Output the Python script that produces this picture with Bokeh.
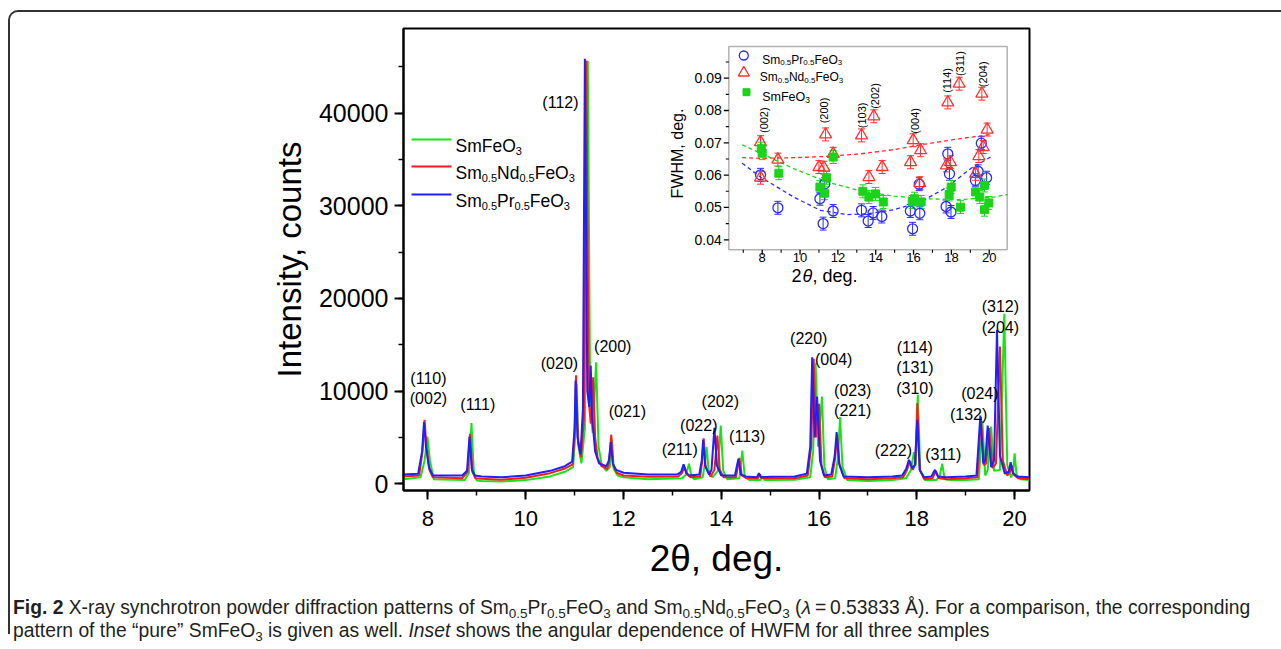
from math import pi
from bokeh.plotting import figure
from bokeh.models import (Range1d, Label, BoxAnnotation, ColumnDataSource, Whisker,
                          TeeHead, SingleIntervalTicker, Div)
from bokeh.layouts import column
from bokeh.core.properties import value
from bokeh.embed import file_html
from bokeh.resources import INLINE

# ---------------- main diffraction patterns (2theta, counts) ----------------
sm_tt = [7.50, 7.85, 7.93, 7.99, 8.04, 8.12, 8.75, 8.84, 8.89, 8.94, 9.00, 9.10, 9.50, 10.00,
         10.50, 10.80, 10.97, 11.01, 11.04, 11.08, 11.14, 11.21, 11.27, 11.32, 11.37, 11.44,
         11.49, 11.55, 11.65, 11.72, 11.76, 11.80, 11.88, 12.00, 12.50, 13.20, 13.28, 13.34,
         13.39, 13.45, 13.62, 13.66, 13.70, 13.74, 13.82, 13.93, 13.99, 14.04, 14.12, 14.37,
         14.43, 14.48, 14.58, 14.80, 14.85, 14.89, 15.00, 15.50, 15.82, 15.88, 15.93, 15.98,
         16.06, 16.11, 16.18, 16.33, 16.39, 16.43, 16.48, 16.58, 17.00, 17.50, 17.78, 17.88,
         17.94, 17.98, 18.02, 18.07, 18.17, 18.40, 18.47, 18.52, 18.57, 18.70, 19.00, 19.27,
         19.34, 19.40, 19.45, 19.52, 19.58, 19.70, 19.79, 19.85, 19.93, 19.97, 20.00, 20.04,
         20.12, 20.30]
sm_int = [500, 700, 2500, 5100, 2500, 500, 400, 1200, 6550, 1200, 350, 300, 250, 400,
          800, 1300, 1800, 5000, 10800, 4000, 2200, 6000, 45600, 8000, 5500, 13100,
          4000, 2200, 1400, 1800, 4800, 1600, 900, 700, 500, 600, 1000, 2160,
          800, 500, 700, 2000, 4000, 1500, 700, 1400, 6290, 1400, 500, 600,
          3590, 800, 400, 400, 800, 400, 400, 450, 700, 3500, 13000, 4000,
          9420, 1800, 500, 600, 3000, 7190, 1800, 400, 300, 400, 600, 1500,
          3410, 2000, 9630, 1400, 400, 400, 900, 2160, 500, 400, 400, 500,
          6800, 900, 1500, 6180, 1400, 1500, 18340, 2000, 700, 1200, 3300, 1000,
          500, 400]

nd_tt = [7.50, 7.82, 7.89, 7.93, 7.97, 8.03, 8.10, 8.70, 8.81, 8.86, 8.91, 8.97, 9.10, 9.50,
         10.00, 10.50, 10.80, 10.96, 11.00, 11.03, 11.07, 11.13, 11.19, 11.24, 11.29, 11.33,
         11.38, 11.42, 11.47, 11.55, 11.67, 11.71, 11.75, 11.79, 11.86, 12.00, 12.50, 13.12,
         13.20, 13.25, 13.30, 13.38, 13.57, 13.61, 13.64, 13.68, 13.78, 13.86, 13.92, 13.97,
         14.05, 14.30, 14.37, 14.42, 14.52, 14.75, 14.79, 14.83, 15.00, 15.50, 15.77, 15.84,
         15.89, 15.94, 16.00, 16.05, 16.12, 16.27, 16.33, 16.37, 16.42, 16.52, 17.00, 17.50,
         17.72, 17.80, 17.86, 17.92, 17.97, 18.01, 18.06, 18.15, 18.32, 18.39, 18.45, 18.62,
         19.00, 19.24, 19.31, 19.37, 19.42, 19.48, 19.55, 19.62, 19.70, 19.76, 19.85, 19.90,
         19.94, 19.98, 20.07, 20.30]
nd_int = [800, 900, 3500, 6900, 4000, 1500, 700, 600, 1300, 5400, 1300, 600, 550, 450,
          650, 1150, 1650, 2100, 5500, 11700, 4500, 2870, 7000, 45670, 9000, 6500,
          11500, 5000, 2800, 1900, 1600, 2500, 5300, 2000, 1200, 900, 750, 800,
          1200, 1800, 1000, 700, 800, 2500, 4900, 1800, 800, 1500, 5210, 1500,
          700, 700, 2800, 900, 600, 600, 1000, 600, 600, 600, 900, 4000,
          13490, 5000, 8630, 2000, 700, 800, 2800, 5330, 2000, 600, 500, 600,
          700, 1500, 2450, 1500, 2200, 8700, 1500, 500, 600, 1400, 600, 500,
          600, 700, 7190, 2000, 2200, 6000, 1700, 2200, 14810, 2500, 900, 1200,
          2000, 1000, 600, 500]

pr_tt = [7.50, 7.80, 7.88, 7.92, 7.96, 8.02, 8.10, 8.70, 8.80, 8.85, 8.90, 8.96, 9.10, 9.50,
         10.00, 10.50, 10.80, 10.95, 11.00, 11.02, 11.06, 11.12, 11.17, 11.21, 11.26, 11.30,
         11.33, 11.36, 11.42, 11.50, 11.65, 11.70, 11.74, 11.78, 11.85, 12.00, 12.50, 13.10,
         13.18, 13.23, 13.28, 13.35, 13.55, 13.60, 13.63, 13.67, 13.75, 13.80, 13.86, 13.91,
         14.00, 14.28, 14.35, 14.40, 14.50, 14.73, 14.77, 14.81, 15.00, 15.50, 15.75, 15.82,
         15.86, 15.91, 15.96, 16.02, 16.10, 16.25, 16.32, 16.36, 16.41, 16.50, 17.00, 17.50,
         17.70, 17.78, 17.84, 17.90, 17.96, 18.01, 18.06, 18.15, 18.30, 18.37, 18.43, 18.60,
         19.00, 19.22, 19.30, 19.36, 19.40, 19.45, 19.52, 19.58, 19.64, 19.70, 19.80, 19.88,
         19.92, 19.96, 20.05, 20.30]
pr_int = [1000, 1100, 3500, 6650, 4000, 1800, 900, 900, 1400, 5100, 1500, 900, 800, 700,
          900, 1400, 1900, 2400, 6000, 11150, 5000, 3200, 8000, 45860, 10000, 8300,
          12770, 7000, 3500, 2200, 1900, 2500, 4500, 2200, 1500, 1200, 1000, 1000,
          1300, 2100, 1200, 900, 1000, 2500, 4750, 2000, 1000, 1500, 6050, 2000,
          900, 900, 2700, 1000, 800, 700, 1150, 700, 750, 800, 1100, 4000,
          13660, 5000, 9420, 2500, 900, 1000, 3000, 5570, 2200, 800, 700, 800,
          900, 1600, 2590, 1700, 2000, 6900, 1500, 700, 800, 1510, 800, 700,
          800, 900, 7370, 2200, 2500, 6290, 1800, 2500, 16620, 3000, 1100, 1300,
          2330, 1200, 800, 700]

peak_text = ["(110)", "(002)", "(111)", "(020)", "(112)", "(200)", "(021)", "(211)", "(022)",
             "(202)", "(113)", "(220)", "(004)", "(023)", "(221)", "(222)", "(114)", "(131)",
             "(310)", "(311)", "(024)", "(132)", "(312)", "(204)"]
peak_x = [8.01, 8.01, 9.02, 10.69, 10.71, 11.78, 12.08, 13.15, 13.54,
          13.98, 14.53, 15.79, 16.30, 16.69, 16.69, 17.52, 17.96, 17.96,
          17.96, 18.54, 19.29, 19.06, 19.71, 19.71]
peak_y = [11410, 9220, 8580, 13030, 41130, 14830, 7750, 3720, 6340,
          8900, 5120, 15650, 13380, 10070, 7910, 3590, 14710, 12550,
          10280, 3190, 9710, 7480, 19100, 16900]

# ---------------- inset: FWHM vs 2theta ----------------
pr_fx = [7.91, 8.83, 11.05, 11.22, 11.31, 11.75, 13.25, 13.60, 13.86, 14.32, 15.83, 15.95,
         16.30, 16.33, 17.72, 17.81, 17.90, 17.98, 19.27, 19.41, 19.58, 19.86]
pr_fw = [0.0601, 0.0499, 0.0527, 0.0450, 0.0573, 0.0489, 0.0491, 0.0458, 0.0483, 0.0472,
         0.0489, 0.0434, 0.0572, 0.0482, 0.0503, 0.0666, 0.0604, 0.0486, 0.0584, 0.0612,
         0.0699, 0.0592]
nd_fx = [7.91, 7.91, 8.83, 11.00, 11.26, 11.35, 11.75, 13.25, 13.64, 13.90, 14.34, 15.84,
         15.98, 16.37, 16.33, 17.81, 17.74, 17.95, 18.41, 19.28, 19.45, 19.61, 19.68, 19.89]
nd_fw = [0.0702, 0.0592, 0.0648, 0.0625, 0.0623, 0.0726, 0.0666, 0.0723, 0.0594, 0.0782,
         0.0625, 0.0640, 0.0708, 0.0677, 0.0575, 0.0825, 0.0630, 0.0640, 0.0883, 0.0604,
         0.0659, 0.0852, 0.0687, 0.0741]
sm_fx = [7.95, 8.00, 8.88, 11.05, 11.29, 11.40, 11.75, 13.32, 13.64, 13.99, 14.40, 15.93,
         16.05, 16.40, 17.88, 17.99, 18.48, 19.28, 19.50, 19.75, 19.75, 19.98]
sm_fw = [0.0682, 0.0668, 0.0606, 0.0563, 0.0544, 0.0592, 0.0656, 0.0550, 0.0532, 0.0542,
         0.0517, 0.0517, 0.0527, 0.0517, 0.0540, 0.0563, 0.0501, 0.0548, 0.0532, 0.0568,
         0.0493, 0.0514]
fwhm_err = 0.002

fit_pr_x = [6.94, 7.91, 9.67, 11.08, 12.49, 13.55, 14.96, 16.37, 17.78, 19.01, 20.07]
fit_pr_y = [0.0637, 0.0594, 0.0532, 0.0491, 0.0478, 0.0480, 0.0493, 0.0517, 0.0563, 0.0620, 0.0656]
fit_nd_x = [6.94, 7.91, 9.67, 11.44, 13.20, 14.96, 16.72, 18.48, 20.07]
fit_nd_y = [0.0654, 0.0652, 0.0654, 0.0658, 0.0666, 0.0679, 0.0697, 0.0713, 0.0726]
fit_sm_x = [6.94, 7.91, 9.67, 11.44, 13.20, 14.96, 16.72, 18.48, 20.24, 20.95]
fit_sm_y = [0.0694, 0.0668, 0.0620, 0.0579, 0.0551, 0.0535, 0.0527, 0.0524, 0.0532, 0.0540]

ins_text = ["(002)", "(200)", "(103)", "(202)", "(004)", "(114)", "(311)", "(204)"]
ins_tx = [8.09, 11.26, 13.28, 13.95, 16.05, 17.78, 18.45, 19.66]
ins_ty = [0.0770, 0.0800, 0.0785, 0.0845, 0.0768, 0.0893, 0.0945, 0.0912]

ins_xmaj = [8, 10, 12, 14, 16, 18, 20]
ins_xmin = [7, 9, 11, 13, 15, 17, 19]
ins_ymaj = [0.04, 0.05, 0.06, 0.07, 0.08, 0.09]
ins_ymin = [0.045, 0.055, 0.065, 0.075, 0.085, 0.095]
ins_ylab = ["0.04", "0.05", "0.06", "0.07", "0.08", "0.09"]

# ---------------- styling / geometry ----------------
FONT = "Liberation Sans"
GREEN, RED, BLUE = "#14e614", "#ff1a1a", "#1f1fff"
IGREEN, IRED, IBLUE = "#19d419", "#ff3030", "#2b2bff"

MB_L, MB_T, MB_R, MB_B = 403, 28, 252, 100
FW, FH = 626, 462
FL, FT = MB_L, MB_T
FR, FB = FL + FW, FT + FH
FIG_H = MB_T + FH + MB_B
X0, X1 = 7.5, 20.305
Y0, Y1 = -720, 49115


def mx(px):
    return X0 + (px - FL) / FW * (X1 - X0)


def my(py):
    return Y0 + (FB - py) / FH * (Y1 - Y0)


# inset box (page px) and its data extent
IL, IR, IT, IB = 728.3, 1006.7, 46.0, 249.3
IX0, IX1 = 6.234, 20.95
IY0, IY1 = 0.0369, 0.0998
SX = (IR - IL) / (IX1 - IX0)
SY = (IB - IT) / (IY1 - IY0)


def ix(px):
    return IX0 + (px - IL) / SX


def iy(py):
    return IY0 + (IB - py) / SY


p = figure(width=MB_L + FW + MB_R, height=FIG_H,
           frame_width=FW, frame_height=FH,
           x_range=Range1d(X0, X1), y_range=Range1d(Y0, Y1),
           output_backend="svg", toolbar_location=None,
           min_border_left=MB_L, min_border_right=MB_R,
           min_border_top=MB_T, min_border_bottom=MB_B)
p.extra_x_ranges = {"ix": Range1d(IX0 - (IL - FL) / SX, IX1 + (FR - IR) / SX)}
p.extra_y_ranges = {"iy": Range1d(IY0 - (FB - IB) / SY, IY1 + (IT - FT) / SY)}

p.xgrid.visible = False
p.ygrid.visible = False
p.outline_line_color = "black"
p.outline_line_width = 2
p.background_fill_color = "white"
p.border_fill_color = "white"

p.xaxis.ticker = SingleIntervalTicker(interval=2, num_minor_ticks=2)
p.yaxis.ticker = SingleIntervalTicker(interval=10000, num_minor_ticks=2)
for ax, fs, so in ((p.xaxis, "22px", 11), (p.yaxis, "25px", 6)):
    ax.axis_line_width = 2
    ax.major_tick_line_width = 2
    ax.minor_tick_line_width = 1.5
    ax.major_tick_in = 0
    ax.minor_tick_in = 0
    ax.major_tick_out = 9
    ax.minor_tick_out = 5
    ax.major_label_text_font = FONT
    ax.major_label_text_font_size = fs
    ax.major_label_text_color = "black"
    ax.major_label_standoff = so
    ax.axis_label_text_font = FONT
    ax.axis_label_text_font_style = "normal"
    ax.axis_label_text_color = "black"

p.yaxis.axis_label = "Intensity, counts"
p.yaxis.axis_label_text_font_size = "33px"
p.yaxis.axis_label_standoff = 8
p.xaxis.axis_label = "2θ, deg."
p.xaxis.axis_label_text_font_size = "37px"
p.xaxis.axis_label_standoff = 9

# curves
p.line(sm_tt, sm_int, line_color=GREEN, line_width=2)
p.line(nd_tt, nd_int, line_color=RED, line_width=2)
p.line(pr_tt, pr_int, line_color=BLUE, line_width=2)

p.text(x=peak_x, y=peak_y, text=peak_text, text_font=value(FONT), text_font_size="16px",
       text_align="center", text_baseline="middle", text_color="black")

# ---------- text helpers ----------
W = {' ': 278, '(': 333, ')': 333, ',': 278, '.': 278, 'S': 667, 'm': 833, 'F': 611,
     'e': 556, 'O': 778, 'N': 722, 'd': 556, 'P': 667, 'r': 333, 'g': 556}


def tw(s, size):
    return sum(W.get(c, 556) for c in s) * size / 1000.0


def rich(pieces, left_px, base_px, size, sub_size, drop):
    cur = left_px
    for txt, sub in pieces:
        fs = sub_size if sub else size
        yb = base_px + (drop if sub else 0)
        p.add_layout(Label(x=mx(cur), y=my(yb), text=txt, text_font=FONT,
                           text_font_size=f"{fs}px", text_baseline="alphabetic",
                           text_align="left", text_color="black"))
        cur += tw(txt, fs)


SMFEO = [("SmFeO", 0), ("3", 1)]
NDFEO = [("Sm", 0), ("0.5", 1), ("Nd", 0), ("0.5", 1), ("FeO", 0), ("3", 1)]
PRFEO = [("Sm", 0), ("0.5", 1), ("Pr", 0), ("0.5", 1), ("FeO", 0), ("3", 1)]

# main legend
for yy, col, pieces in ((139, GREEN, SMFEO), (166, RED, NDFEO), (194, BLUE, PRFEO)):
    p.add_layout(BoxAnnotation(left=mx(411), right=mx(451), top=my(yy - 1), bottom=my(yy + 1),
                               fill_color=col, fill_alpha=1, line_alpha=0))
    rich(pieces, 455, yy + 6.5, 17.5, 11, 5)

# ---------- inset ----------
R = dict(x_range_name="ix", y_range_name="iy")
p.add_layout(BoxAnnotation(left=IX0, right=IX1, bottom=IY0, top=IY1, fill_alpha=0,
                           line_color="black", line_width=1.5, **R))
p.segment(x0=ins_xmaj, y0=[IY0] * len(ins_xmaj), x1=ins_xmaj, y1=[IY0 - 5 / SY] * len(ins_xmaj),
          line_color="black", line_width=1.3, **R)
p.segment(x0=ins_xmin, y0=[IY0] * len(ins_xmin), x1=ins_xmin, y1=[IY0 - 3 / SY] * len(ins_xmin),
          line_color="black", line_width=1.1, **R)
p.segment(x0=[IX0] * len(ins_ymaj), y0=ins_ymaj, x1=[IX0 - 5 / SX] * len(ins_ymaj), y1=ins_ymaj,
          line_color="black", line_width=1.3, **R)
p.segment(x0=[IX0] * len(ins_ymin), y0=ins_ymin, x1=[IX0 - 3 / SX] * len(ins_ymin), y1=ins_ymin,
          line_color="black", line_width=1.1, **R)
p.text(x=[IX0] * len(ins_ymaj), y=ins_ymaj, text=ins_ylab, x_offset=-7,
       text_font=value(FONT), text_font_size="14px", text_align="right",
       text_baseline="middle", text_color="black", **R)
p.text(x=ins_xmaj, y=[IY0] * len(ins_xmaj), text=[str(v) for v in ins_xmaj], y_offset=3,
       text_font=value(FONT), text_font_size="13px", text_align="center",
       text_baseline="top", text_color="black", **R)

p.add_layout(Label(x=mx(677), y=my(153), text="FWHM, deg.", angle=pi / 2, text_font=FONT,
                   text_font_size="16px", text_align="center", text_baseline="middle",
                   text_color="black"))
for txt, xx, style in (("2", 791, "normal"), ("θ", 802, "italic"), (", deg.", 812, "normal")):
    p.add_layout(Label(x=mx(xx), y=my(275), text=txt, text_font=FONT, text_font_size="18px",
                       text_font_style=style, text_baseline="alphabetic", text_color="black"))

# fits
p.line(fit_pr_x, fit_pr_y, line_color=IBLUE, line_dash="4 3", line_width=1.3, **R)
p.line(fit_nd_x, fit_nd_y, line_color=IRED, line_dash="4 3", line_width=1.3, **R)
p.line(fit_sm_x, fit_sm_y, line_color=IGREEN, line_dash="4 3", line_width=1.3, **R)

# error bars + points
for xs, ys, col in ((pr_fx, pr_fw, IBLUE), (nd_fx, nd_fw, IRED), (sm_fx, sm_fw, IGREEN)):
    src = ColumnDataSource(dict(x=xs, up=[v + fwhm_err for v in ys], lo=[v - fwhm_err for v in ys]))
    p.add_layout(Whisker(source=src, base="x", upper="up", lower="lo", line_color=col,
                         line_width=1,
                         upper_head=TeeHead(size=7, line_color=col, line_width=1),
                         lower_head=TeeHead(size=7, line_color=col, line_width=1), **R))

p.scatter(pr_fx, pr_fw, marker="circle", size=10, fill_alpha=0, line_color=IBLUE,
          line_width=1.3, **R)
p.scatter(nd_fx, nd_fw, marker="triangle", size=12, fill_alpha=0, line_color=IRED,
          line_width=1.3, **R)
p.scatter(sm_fx, sm_fw, marker="square", size=8, fill_color=IGREEN, line_color=IGREEN, **R)

p.text(x=ins_tx, y=ins_ty, text=ins_text, angle=pi / 2, text_font=value(FONT),
       text_font_size="11px", text_align="center", text_baseline="middle",
       text_color="black", **R)

# inset legend
p.scatter([ix(743.3)], [iy(55)], marker="circle", size=9, fill_alpha=0, line_color=IBLUE,
          line_width=1.3, **R)
p.scatter([ix(743.3)], [iy(72.3)], marker="triangle", size=11, fill_alpha=0, line_color=IRED,
          line_width=1.3, **R)
p.scatter([ix(746)], [iy(91.7)], marker="square", size=7, fill_color=IGREEN,
          line_color=IGREEN, **R)
rich(PRFEO, 761.7, 59.3, 12, 8, 3)
rich(NDFEO, 759.3, 76.6, 12, 8, 3)
rich(SMFEO, 761.7, 96.0, 12.5, 8.5, 3)


def sub(t):
    return f'<span style="font-size:0.7em;vertical-align:-0.3em;line-height:0">{t}</span>'


DIV_H = 51
caption = (
    f'<div style="position:relative;height:{DIV_H}px;margin-left:8px;">'
    f'<div style="position:absolute;left:0;top:-{FIG_H - 10}px;width:1271px;height:622px;'
    'border-top:2px solid #333;border-left:2px solid #333;border-top-left-radius:10px;'
    'pointer-events:none;box-sizing:content-box;"></div>'
    f'<div style="position:absolute;left:5px;top:{607 - FIG_H - 11.5}px;white-space:nowrap;'
    "font-family:'Liberation Sans',Arial,sans-serif;font-size:19.3px;line-height:23px;color:#231f20;\">"
    f'<b>Fig. 2</b> X-ray synchrotron powder diffraction patterns of Sm{sub("0.5")}Pr{sub("0.5")}FeO{sub("3")}'
    f' and Sm{sub("0.5")}Nd{sub("0.5")}FeO{sub("3")} (<i>λ</i>&#8201;=&#8201;0.53833 Å). For a comparison, the corresponding<br>'
    f'pattern of the “pure” SmFeO{sub("3")} is given as well. <i>Inset</i> shows the angular dependence of HWFM for all three samples'
    '</div></div>'
)
div = Div(text=caption, width=MB_L + FW + MB_R, height=DIV_H, margin=(0, 0, 0, 0),
          styles={"overflow": "visible"})

layout = column(p, div)
open("out.html", "w").write(file_html(layout, INLINE))
